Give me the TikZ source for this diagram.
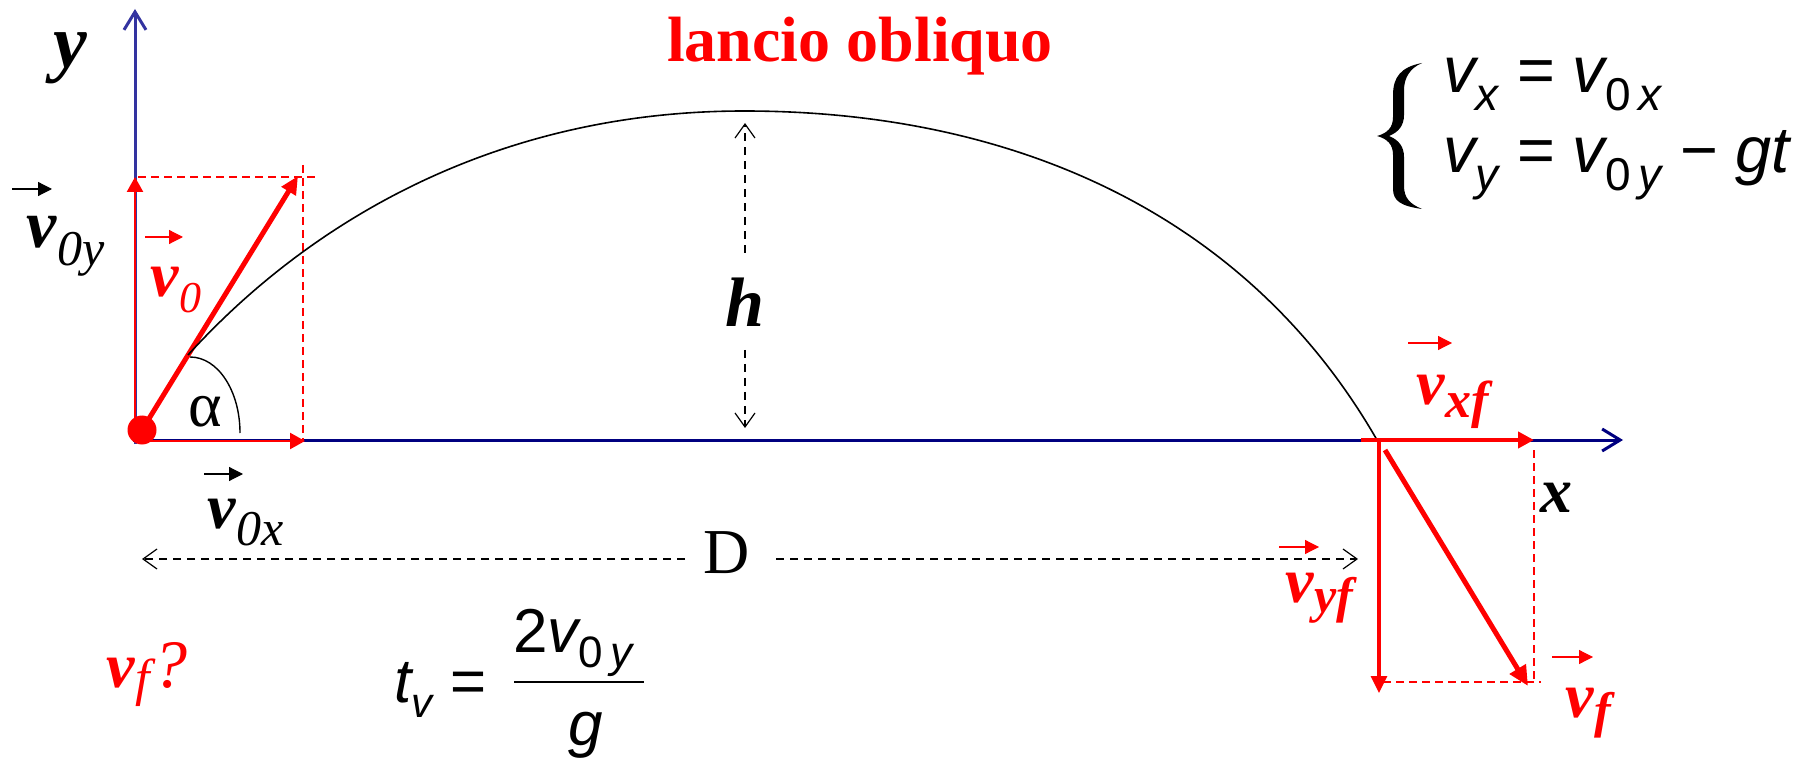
\documentclass[tikz,border=0pt]{standalone}
\usepackage{fontspec}
\usepackage{graphicx}
\setmainfont{Liberation Serif}
\newfontfamily\arialf{Liberation Sans}
\usetikzlibrary{arrows.meta}
\definecolor{yblue}{RGB}{51,51,160}
\definecolor{xnavy}{RGB}{0,0,128}
\definecolor{vred}{RGB}{255,0,0}
\newcommand\bv{\textbf{\textit{v}}}
\newcommand\lsub[3][8pt]{\raisebox{-#1}{\fontsize{#2}{#2}\selectfont\itshape #3}}
\begin{document}
\begin{tikzpicture}[x=0.5pt,y=-0.5pt,
  axisline/.style={line width=1.5pt,-{Straight Barb[length=9pt,width=11pt]}},
  dashred/.style={vred,line width=0.6pt,dash pattern=on 4pt off 2.5pt},
  dimline/.style={black,line width=0.6pt,dash pattern=on 4pt off 3pt,-{Straight Barb[length=7pt,width=10pt]}},
  hat/.style={line width=0.6pt,-{Triangle[length=7pt,width=7pt]}},
  lab/.style={inner sep=0pt,anchor=base west,font=\fontsize{32}{32}\selectfont},
  eqlab/.style={inner sep=0pt,anchor=base west,font=\fontsize{31}{31}\selectfont\arialf\itshape}]
\useasboundingbox (0,0) rectangle (1798,764);
% axes
\coordinate (ybot) at (135,444);
\coordinate (ytip) at (135,9);
\coordinate (xstart) at (133,440);
\coordinate (xtip) at (1623,440);
\draw[axisline,yblue] (ybot) -- (ytip);
\draw[axisline,xnavy] (xstart) -- (xtip);
% initial vectors
\coordinate (O) at (135,440);
\coordinate (v0ytip) at (135,177);
\coordinate (v0xs) at (142,441);
\coordinate (v0xtip) at (305,441);
\coordinate (v0tip) at (298,176);
\coordinate (d1) at (138,177);
\coordinate (d2) at (315,177);
\coordinate (d3) at (303,165);
\coordinate (d4) at (303,440);
\draw[dashred] (d1) -- (d2);
\draw[dashred] (d3) -- (d4);
\draw[vred,line width=1.2pt,-{Triangle[length=7.5pt,width=8pt]}] (O) -- (v0ytip);
\draw[vred,line width=1.2pt,-{Triangle[length=7.5pt,width=8pt]}] (v0xs) -- (v0xtip);
\node[circle,fill=vred,minimum size=14.5pt,inner sep=0pt] (ball) at (142,430) {};
\draw[vred,line width=2.5pt,-{Triangle[length=9pt,width=8pt]}] (ball.center) -- (v0tip);
% angle
\draw[line width=0.7pt] (190,357) .. controls (218,357) and (240,391) .. (240,433);
\node[inner sep=0pt,anchor=base,font=\fontsize{32}{32}\selectfont] (alpha) at (205,427) {α};
% trajectory
\coordinate (tstart) at (188,355);
\coordinate (tpeak) at (744,111);
\coordinate (tend) at (1377,440);
\draw[line width=0.8pt] (tstart) .. controls (308,223) and (494,111) .. (tpeak)
  .. controls (1014,111) and (1247,214) .. (tend);
% h
\node[inner sep=0pt,anchor=base,font=\fontsize{35}{35}\selectfont\bfseries\itshape] (h) at (745,327) {h};
\coordinate (hup) at (745,253);
\coordinate (htop) at (745,123);
\coordinate (hdn) at (745,350);
\coordinate (hbot) at (745,428);
\draw[dimline] (hup) -- (htop);
\draw[dimline] (hdn) -- (hbot);
% D
\node[inner sep=0pt,anchor=base,font=\fontsize{32}{32}\selectfont] (D) at (727,573) {D};
\coordinate (Dl) at (685,559);
\coordinate (Dleft) at (142,559);
\coordinate (Dr) at (776,559);
\coordinate (Dright) at (1358,559);
\draw[dimline] (Dl) -- (Dleft);
\draw[dimline] (Dr) -- (Dright);
% final vectors
\coordinate (vxs) at (1361,440);
\coordinate (vxt) at (1534,440);
\coordinate (vys) at (1379,440);
\coordinate (vyt) at (1379,693);
\coordinate (vfs) at (1385,450);
\coordinate (vft) at (1528,686);
\coordinate (e1) at (1534,450);
\coordinate (e2) at (1534,682);
\coordinate (e3) at (1383,682);
\coordinate (e4) at (1541,682);
\draw[dashred] (e1) -- (e2);
\draw[dashred] (e3) -- (e4);
\draw[vred,line width=2pt,-{Triangle[length=8pt,width=8pt]}] (vxs) -- (vxt);
\draw[vred,line width=1.6pt,-{Triangle[length=8.5pt,width=8pt]}] (vys) -- (vyt);
\draw[vred,line width=2.5pt,-{Triangle[length=10pt,width=9pt]}] (vfs) -- (vft);
% axis labels
\node[inner sep=0pt,anchor=base,font=\fontsize{38}{38}\selectfont\bfseries\itshape] (ylab) at (70,68) {y};
\node[inner sep=0pt,anchor=base,font=\fontsize{32}{32}\selectfont\bfseries\itshape] (xlab) at (1556,512) {x};
% title
\node[inner sep=0pt,anchor=base,text=vred,font=\fontsize{32}{32}\selectfont\bfseries] (title) at (860,62) {lancio obliquo};
% vector labels
\draw[hat] (12,189) -- (52,189);
\node[lab] (lv0y) at (26,248) {\fontsize{34}{34}\selectfont\bv\lsub[9pt]{25}{0y}};
\draw[hat,vred] (145,237) -- (183,237);
\node[lab,text=vred] (lv0) at (150,297) {\bv\lsub[8pt]{22}{0}};
\draw[hat] (204,474) -- (243,474);
\node[lab] (lv0x) at (207,528) {\bv\lsub[8.5pt]{25}{0x}};
\draw[hat,vred] (1408,343) -- (1452,343);
\node[lab,text=vred] (lvxf) at (1416,405) {\bv\lsub[6pt]{26}{\bfseries xf}};
\draw[hat,vred] (1279,547) -- (1319,547);
\node[lab,text=vred] (lvyf) at (1285,602) {\bv\lsub[5pt]{25}{\bfseries yf}};
\draw[hat,vred] (1552,657) -- (1593,657);
\node[lab,text=vred] (lvf) at (1565,717) {\bv\lsub[5pt]{25}{\bfseries f}};
\node[lab,text=vred] (lvfq) at (106,687) {\bv\lsub[4pt]{26}{f}\kern2pt{\fontsize{34}{34}\selectfont\textit{?}}};
% equations: brace drawn as a filled shape
\fill (1422,63) .. controls (1401,67) and (1393,77) .. (1393,95) -- (1393,117)
  .. controls (1393,127) and (1388,133) .. (1377,136)
  .. controls (1388,139) and (1393,145) .. (1393,155) -- (1393,189)
  .. controls (1393,201) and (1401,206) .. (1422,209)
  .. controls (1410,204) and (1404,198) .. (1404,186) -- (1404,157)
  .. controls (1404,147) and (1399,140) .. (1389,136)
  .. controls (1399,132) and (1404,125) .. (1404,115) -- (1404,90)
  .. controls (1404,78) and (1410,68) .. (1422,63) -- cycle;
\node[inner sep=0pt,anchor=base west,font=\fontsize{32.5}{40}\selectfont\arialf\itshape] (eqs) at (1443,93)
  {\begin{tabular}[t]{@{}l@{}}
   v\lsub[9pt]{23}{x} = v\lsub[9pt]{23}{\textup{0}\,x}\\
   v\lsub[9pt]{23}{y} = v\lsub[9pt]{23}{\textup{0}\,y} − gt
   \end{tabular}};
% flight time
\node[eqlab] (tv) at (394,702) {t\lsub[7.5pt]{21}{v} =};
\node[eqlab] (num) at (513,652) {\textup{2}v\lsub[7.5pt]{22}{\textup{0}\,y}};
\node[eqlab] (den) at (568,745) {g};
\coordinate (bar1) at (514,682);
\coordinate (bar2) at (644,682);
\draw[line width=0.9pt] (bar1) -- (bar2);
\end{tikzpicture}
\end{document}
